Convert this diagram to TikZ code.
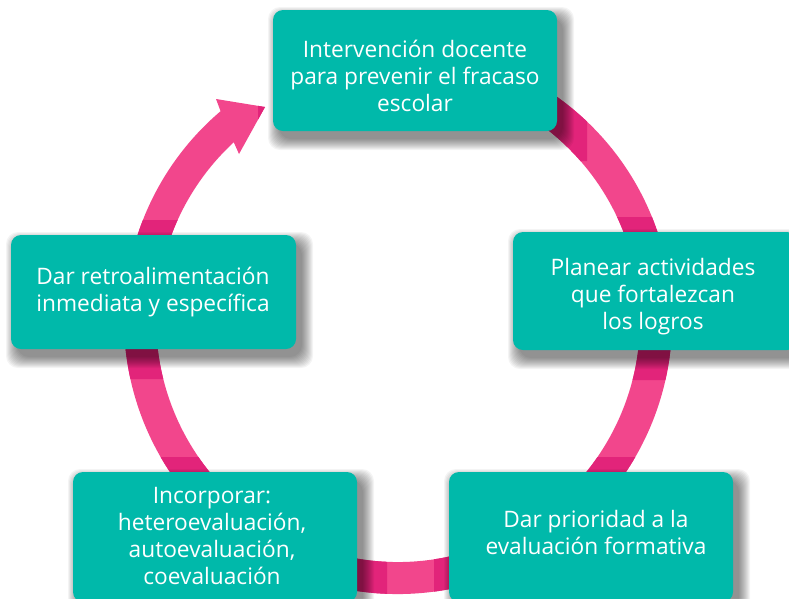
\documentclass[tikz,border=0pt]{standalone}
\usepackage{fontspec}
\setmainfont{Open Sans}
\definecolor{teal1}{RGB}{0,185,170}
\definecolor{pinkL}{RGB}{242,70,140}
\definecolor{pinkD}{RGB}{226,36,122}
\newcommand\mkshadow[4]{%
  \foreach \e in {0,...,11}{%
    \fill[black,opacity=0.045,rounded corners=12] ({#1+6-\e},{#2+8-\e}) rectangle ({#3+6+\e},{#4+8+\e});}}
\newcommand\ringpath[1]{%
  \draw[#1,line width=32] (398,320) ++(-100:258) arc[start angle=-100,end angle=231,radius=258];
  \fill[#1] (216,99) -- (265,107) -- (239,154) -- (235,145) -- (222,115) -- cycle;}
\begin{document}
\begin{tikzpicture}[x=1pt,y=-1pt,
  boxst/.style={fill=teal1,rounded corners=10,inner sep=0pt},
  txt/.style={text=white,align=center,font=\fontsize{22.7}{27}\selectfont,inner sep=0pt}]
\useasboundingbox (0,0) rectangle (789,598);
\fill[white] (0,0) rectangle (789,598);
% ring
\ringpath{pinkL}
\begin{scope}
  \clip (258,-5) rectangle (587,161)
        (498,217) rectangle (819,380)
        (434,457) rectangle (763,640)
        (58,457) rectangle (387,640)
        (-4,220) rectangle (326,379);
  \ringpath{pinkD}
\end{scope}
% shadows
\mkshadow{273}{10}{557}{131}
\mkshadow{513}{232}{797}{350}
\mkshadow{449}{472}{733}{602}
\mkshadow{73}{472}{357}{602}
\mkshadow{11}{235}{296}{349}
% boxes
\node[boxst,minimum width=284,minimum height=121] (b1) at (415,70.5) {};
\node[boxst,minimum width=284,minimum height=118] (b2) at (655,291) {};
\node[boxst,minimum width=284,minimum height=130] (b3) at (591,537) {};
\node[boxst,minimum width=284,minimum height=130] (b4) at (215,537) {};
\node[boxst,minimum width=285,minimum height=114] (b5) at (153.5,292) {};
% texts
\node[txt] (t1) at (415,76) {Intervención docente\\para prevenir el fracaso\\escolar};
\node[txt] (t2) at (653,296.5) {Planear actividades\\que fortalezcan\\los logros};
\node[txt] (t3) at (596,532.5) {Dar prioridad a la\\evaluación formativa};
\node[txt] (t4) at (212,535.5) {Incorporar:\\heteroevaluación,\\autoevaluación,\\coevaluación};
\node[txt] (t5) at (153,292.5) {Dar retroalimentación\\inmediata y específica};
\end{tikzpicture}
\end{document}
